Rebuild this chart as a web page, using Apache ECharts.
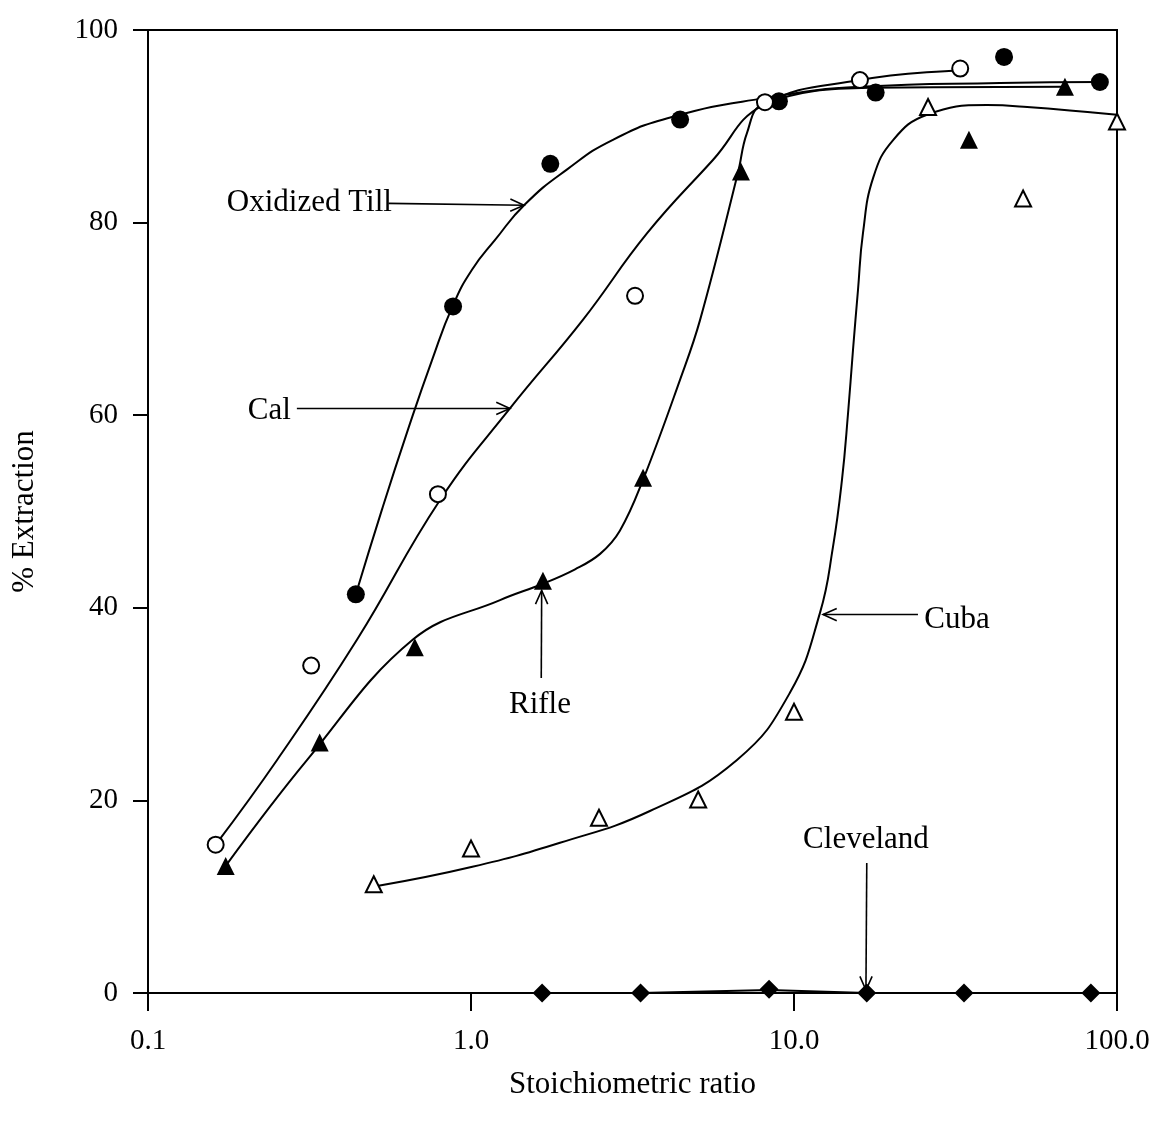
<!DOCTYPE html>
<html>
<head>
<meta charset="utf-8">
<script src="https://cdn.jsdelivr.net/npm/echarts@6/dist/echarts.min.js"></script>
<style>
html,body{margin:0;padding:0;background:#fff;}
#chart{width:1158px;height:1126px;}
</style>
</head>
<body>
<div id="chart"></div>
<script>
// ---------- data (x = stoichiometric ratio, y = % extraction) ----------
const xTickLabels = ['0.1', '1.0', '10.0', '100.0'];
const yTickLabels = ['0', '20', '40', '60', '80', '100'];

// measured points
const oxTillPts = [[0.44,41.4],[0.88,71.3],[1.76,86.1],[4.44,90.7],[8.98,92.6],[17.9,93.5],[44.7,97.2],[88.5,94.6]];
const calPts    = [[0.162,15.4],[0.32,34.0],[0.79,51.8],[3.22,72.4],[8.13,92.5],[16.0,94.8],[32.7,96.0]];
const riflePts  = [[0.174,13.2],[0.34,26.0],[0.67,35.9],[1.67,42.8],[3.41,53.5],[6.85,85.3],[34.8,88.6],[69.0,94.1]];
const cubaPts   = [[0.50,11.3],[1.0,15.0],[2.49,18.2],[5.05,20.1],[10.0,29.2],[26.0,92.0],[51.2,82.5],[100,90.5]];
const clevePts  = [[1.66,0],[3.35,0],[8.37,0.4],[16.8,0],[33.6,0],[83,0]];

// hand-drawn fitted curves
const oxTillCurve = [[0.44,41.4],[0.530,50.2],[0.638,58.5],[0.757,65.7],[0.879,71.4],[1.007,75.1],[1.187,78.2],[1.47,81.9],[1.98,85.5],[2.75,88.6],[4.22,91.0],[8.02,92.9],[16.0,94.1],[43.4,94.5],[88.5,94.6]];
const calCurve    = [[0.162,15.4],[0.251,24.2],[0.444,36.7],[0.802,51.2],[1.32,60.7],[2.22,69.9],[3.51,78.9],[5.61,86.5],[8.02,92.2],[16.0,94.8],[32.7,95.8]];
const rifleCurve  = [[0.174,13.2],[0.311,24.2],[0.661,36.7],[1.23,40.8],[1.67,42.5],[2.1,44.0],[2.51,45.6],[2.89,48.0],[3.41,53.3],[4.44,63.7],[5.12,69.9],[6.71,85.2],[7.15,89.3],[8.02,92.3],[17.2,94.0],[69.0,94.1]];
const cubaCurve   = [[0.512,11.1],[1.01,13.1],[1.886,15.6],[3.58,18.9],[6.66,24.2],[9.72,31.2],[12.04,39.5],[13.2,46.3],[14.08,53.3],[14.7,60.2],[15.23,66.8],[15.78,73.0],[16.35,78.9],[17.6,84.7],[20.3,88.6],[25.8,91.2],[39.6,92.2],[52.7,92.0],[100,91.2]];
const cleveCurve  = [[1.66,0],[3.35,0],[8.37,0.3],[16.8,0],[33.6,0],[83,0]];

// annotations: label text, label anchor [x,y], alignment, arrow from -> to
const annLabels = ['Oxidized Till', 'Cal', 'Rifle', 'Cuba', 'Cleveland'];
const annTextPos = [[0.569,82.0],[0.277,60.5],[1.635,29.9],[25.3,38.7],[16.7,15.9]];
const annAlign   = ['right','right','center','left','center'];
const annFrom    = [[0.555,82.0],[0.289,60.7],[1.65,32.7],[24.2,39.3],[16.8,13.5]];
const annTo      = [[1.459,81.8],[1.32,60.7],[1.655,41.8],[12.3,39.3],[16.7,0.3]];

// ---------- chart ----------
const FONT = '"Liberation Serif","Times New Roman",Times,serif';
const chart = echarts.init(document.getElementById('chart'), null, {renderer:'canvas'});

function curveSeries(data, sm){
  return {type:'line', data:data, smooth:sm, showSymbol:false, symbol:'none',
    lineStyle:{color:'#000', width:2}, z:2, silent:true, animation:false};
}
function pointSeries(data, symbol, size, filled){
  return {type:'scatter', data:data, symbol:symbol, symbolSize:size,
    itemStyle: filled ? {color:'#000', borderColor:'#000', borderWidth:0, opacity:1}
                      : {color:'#fff', borderColor:'#000', borderWidth:2, opacity:1},
    z:3, silent:true, animation:false};
}

const option = {
  animation:false,
  backgroundColor:'#fff',
  grid:{left:148, right:41, top:30, bottom:133, show:true, borderColor:'#000', borderWidth:2},
  xAxis:{
    type:'log', logBase:10, min:0.1, max:100,
    name:'Stoichiometric ratio', nameLocation:'middle', nameGap:76,
    nameTextStyle:{fontFamily:FONT, fontSize:31, color:'#000'},
    axisLine:{show:true, lineStyle:{color:'#000', width:2}},
    axisTick:{show:true, inside:false, length:18, lineStyle:{color:'#000', width:2}},
    minorTick:{show:false},
    splitLine:{show:false},
    axisLabel:{fontFamily:FONT, fontSize:29, color:'#000', margin:34,
      formatter:function(v){ const i=Math.round(Math.log10(v))+1; return xTickLabels[i]; }}
  },
  yAxis:{
    type:'value', min:0, max:100, interval:20,
    name:'% Extraction', nameLocation:'middle', nameGap:108,
    nameTextStyle:{fontFamily:FONT, fontSize:31, color:'#000'},
    axisLine:{show:true, lineStyle:{color:'#000', width:2}},
    axisTick:{show:true, inside:false, length:15, lineStyle:{color:'#000', width:2}},
    splitLine:{show:false},
    axisLabel:{fontFamily:FONT, fontSize:29, color:'#000', margin:30,
      formatter:function(v){ return yTickLabels[Math.round(v/20)]; }}
  },
  series:[
    curveSeries(oxTillCurve, 0.5),
    curveSeries(calCurve, 0.45),
    curveSeries(rifleCurve, 0.4),
    curveSeries(cubaCurve, 0.45),
    {type:'line', data:cleveCurve, smooth:false, showSymbol:false, symbol:'none',
      lineStyle:{color:'#000', width:2}, z:2, silent:true},
    pointSeries(oxTillPts, 'circle', 18, true),
    pointSeries(calPts, 'circle', 16, false),
    pointSeries(riflePts, 'triangle', 18, true),
    pointSeries(cubaPts, 'triangle', 16, false),
    pointSeries(clevePts, 'diamond', 19, true)
  ]
};
chart.setOption(option);

// annotations drawn from data coordinates
function px(p){ return chart.convertToPixel({gridIndex:0}, p); }
const g = [];
for (let i = 0; i < annLabels.length; i++) {
  const tp = px(annTextPos[i]);
  g.push({type:'text', x:tp[0], y:tp[1], z:10, silent:true,
    style:{text:annLabels[i], font:'31px ' + FONT, fill:'#000',
      textAlign:annAlign[i], textVerticalAlign:'middle'}});
  const a = px(annFrom[i]), b = px(annTo[i]);
  g.push({type:'line', z:10, silent:true,
    shape:{x1:a[0], y1:a[1], x2:b[0], y2:b[1]},
    style:{stroke:'#000', lineWidth:1.6}});
  const ang = Math.atan2(b[1]-a[1], b[0]-a[0]);
  const L = 15, w = 0.42;
  const p1 = [b[0] - L*Math.cos(ang - w), b[1] - L*Math.sin(ang - w)];
  const p2 = [b[0] - L*Math.cos(ang + w), b[1] - L*Math.sin(ang + w)];
  g.push({type:'polyline', z:10, silent:true,
    shape:{points:[p1, b, p2]},
    style:{stroke:'#000', lineWidth:1.6, fill:null}});
}
chart.setOption({graphic:g});
</script>
</body>
</html>
